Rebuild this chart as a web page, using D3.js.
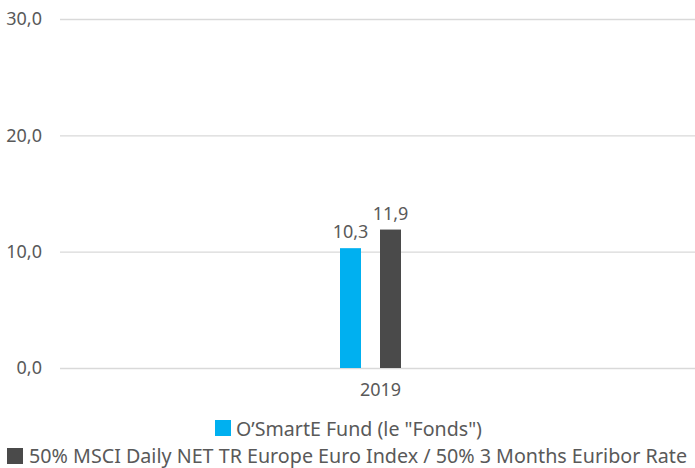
<!DOCTYPE html>
<html><head><meta charset="utf-8">
<script src="https://cdn.jsdelivr.net/npm/d3@7"></script>
<style>
html,body{margin:0;padding:0;background:#fff;}
text{font-family:"Noto Sans",sans-serif;fill:#595959;}
</style></head>
<body>
<svg id="chart" width="695" height="468"></svg>
<script>
const categories = ["2019"];
const seriesNames = ["O’SmartE Fund (le \"Fonds\")", "50% MSCI Daily NET TR Europe Euro Index / 50% 3 Months Euribor Rate"];
const fundValues = [10.3];
const benchmarkValues = [11.9];
const yTicks = [0, 10, 20, 30];
const colors = ["#00B0F0", "#4A4A4A"];

(function(){
const svg = d3.select("#chart");
const mLeft = 60, mRight = 695, mTop = 19, mBottom = 368;
const FS = 18;
const fmt = v => d3.format(".1f")(v).replace(".", ",");

const y = d3.scaleLinear().domain([0, 30]).range([mBottom, mTop]);
const x0 = d3.scaleBand().domain(categories).range([mLeft, mRight]);
const c = x0.bandwidth()/2;
const x1 = d3.scaleBand().domain([0, 1]).range([c - 37.5, c + 23.5]).paddingInner(0.475).paddingOuter(0);

const yAxis = d3.axisLeft(y).tickValues(yTicks).tickSize(-(mRight-mLeft)).tickFormat(fmt).tickPadding(18);
const gy = svg.append("g").attr("transform", `translate(${mLeft},0)`).call(yAxis);
gy.select(".domain").remove();
gy.selectAll(".tick line").attr("stroke", "#D9D9D9").attr("stroke-width", 1.3);
gy.selectAll(".tick text").attr("font-size", FS).attr("fill", "#595959").style("font-family", "Noto Sans");

const xAxis = d3.axisBottom(x0).tickSize(0).tickPadding(15);
const gx = svg.append("g").attr("transform", `translate(0,${mBottom})`).call(xAxis);
gx.select(".domain").remove();
gx.selectAll(".tick text").attr("font-size", FS).attr("fill", "#595959").attr("dx", 3).style("font-family", "Noto Sans");

const data = categories.map((cat, i) => ({c: cat, vals: [fundValues[i], benchmarkValues[i]]}));
const groups = svg.append("g").selectAll("g").data(data).join("g")
  .attr("transform", d => `translate(${x0(d.c)},0)`);
groups.selectAll("rect").data(d => d.vals.map((v, k) => ({v, k}))).join("rect")
  .attr("x", d => x1(d.k)).attr("width", x1.bandwidth())
  .attr("y", d => y(d.v)).attr("height", d => y(0) - y(d.v))
  .attr("fill", d => colors[d.k]);
groups.selectAll("text.lbl").data(d => d.vals.map((v, k) => ({v, k}))).join("text")
  .attr("class", "lbl")
  .attr("x", d => x1(d.k) + x1.bandwidth()/2)
  .attr("y", d => y(d.v) - 10)
  .attr("text-anchor", "middle").attr("font-size", FS)
  .text(d => fmt(d.v));

const leg = [
  {name: seriesNames[0], color: colors[0], sx: 215, sy: 420, tx: 236, ty: 436, w: 246},
  {name: seriesNames[1], color: colors[1], sx: 7, sy: 448, tx: 29, ty: 463, w: 658}
];
leg.forEach(l => {
  svg.append("rect").attr("x", l.sx).attr("y", l.sy).attr("width", 16).attr("height", 16).attr("fill", l.color);
  svg.append("text").attr("x", l.tx).attr("y", l.ty).attr("font-size", 19)
    .attr("textLength", l.w).attr("lengthAdjust", "spacingAndGlyphs").text(l.name);
});
})();
</script>
</body></html>
